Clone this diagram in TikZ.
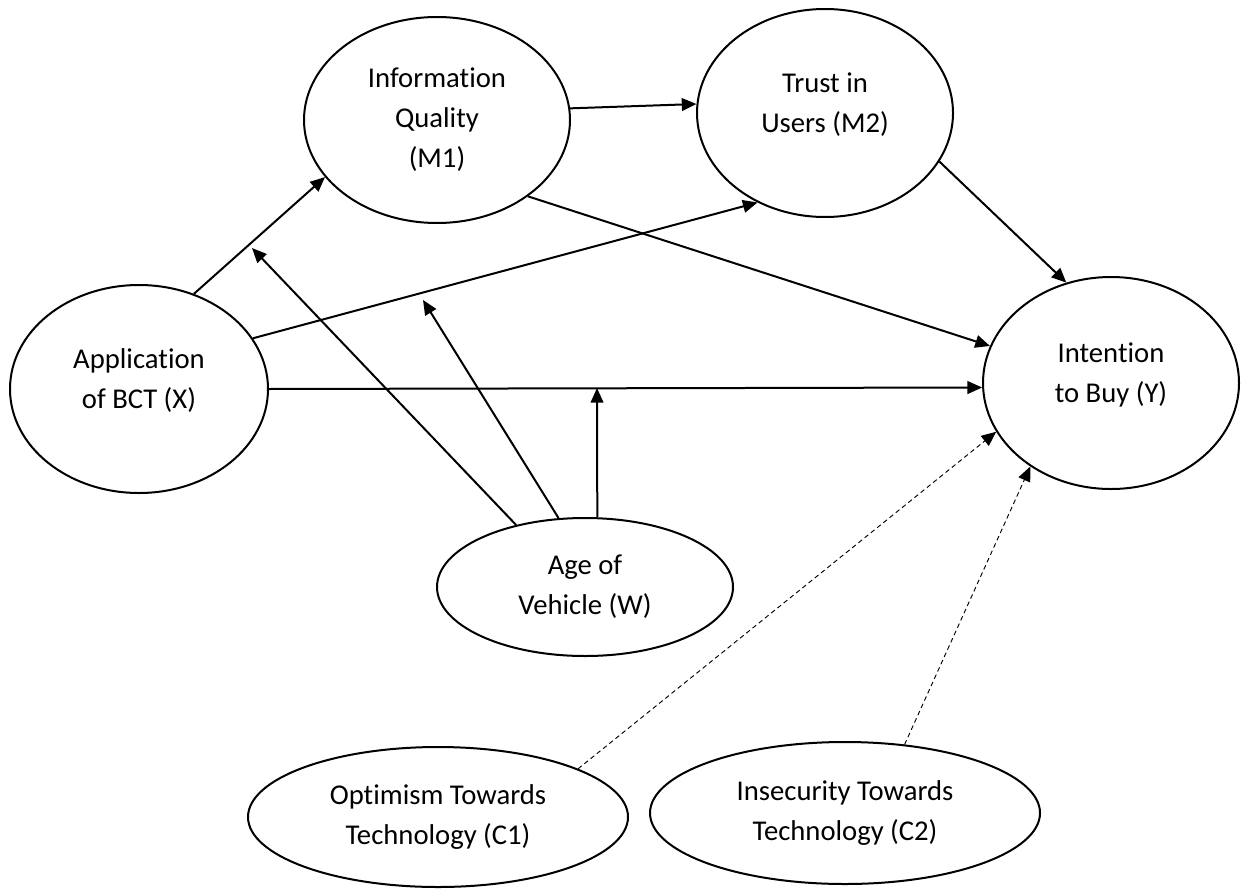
\documentclass[tikz,border=0pt]{standalone}
\usepackage{fontspec}
\setmainfont{Carlito}[Ligatures=NoCommon]
\usetikzlibrary{shapes.geometric,arrows.meta}
\begin{document}
\begin{tikzpicture}[x=0.75pt,y=-0.75pt,
  construct/.style={ellipse,draw,line width=1.5pt,inner sep=0pt,align=center,
    font=\fontsize{21.5}{30}\selectfont},
  arr/.style={line width=1.5pt,-{Triangle[length=11pt,width=9.5pt]}},
  darr/.style={line width=0.7pt,dash pattern=on 3.5pt off 2.5pt,-{Triangle[length=11pt,width=9.5pt]}}]
\useasboundingbox (0,0) rectangle (1244,888);

\node[construct,minimum width=199.5pt,minimum height=154.5pt] (M1) at (437,120) {Information\\Quality\\(M1)};
\node[construct,minimum width=192pt,minimum height=156pt] (M2) at (825,113) {Trust in\\Users (M2)\\[-15pt]};
\node[construct,minimum width=193.5pt,minimum height=156pt] (X) at (139,389) {Application\\of BCT (X)\\[-15pt]};
\node[construct,minimum width=192pt,minimum height=159pt] (Y) at (1111,383) {Intention\\to Buy (Y)\\[-15pt]};
\node[construct,minimum width=222pt,minimum height=103.5pt] (W) at (585,587) {Age of\\Vehicle (W)};
\node[construct,minimum width=285pt,minimum height=105pt] (C1) at (438,817) {Optimism Towards\\Technology (C1)};
\node[construct,minimum width=292.5pt,minimum height=106.5pt] (C2) at (845,813) {Insecurity Towards\\Technology (C2)};

\coordinate (mA) at (252,248);
\coordinate (mB) at (423,300);
\coordinate (mC) at (597,388);

\draw[arr] (X.60.4) -- (M1.207.1);
\draw[arr] (X.24.5) -- (M2.233.3);
\draw[arr] (X.0.4) -- (Y.182.2);
\draw[arr] (M1.5.6) -- (M2.176.8);
\draw[arr] (M1.-40.6) -- (Y.163.4);
\draw[arr] (M2.-23.3) -- (Y.114.3);

\draw[arr] (W.138.1) -- (mA);
\draw[arr] (W.111.4) -- (mB);
\draw[arr] (W.80) -- (mC);

\draw[darr] (C1.19.9) -- (Y.203.5);
\draw[darr] (C2.49) -- (Y.226.1);
\end{tikzpicture}
\end{document}
